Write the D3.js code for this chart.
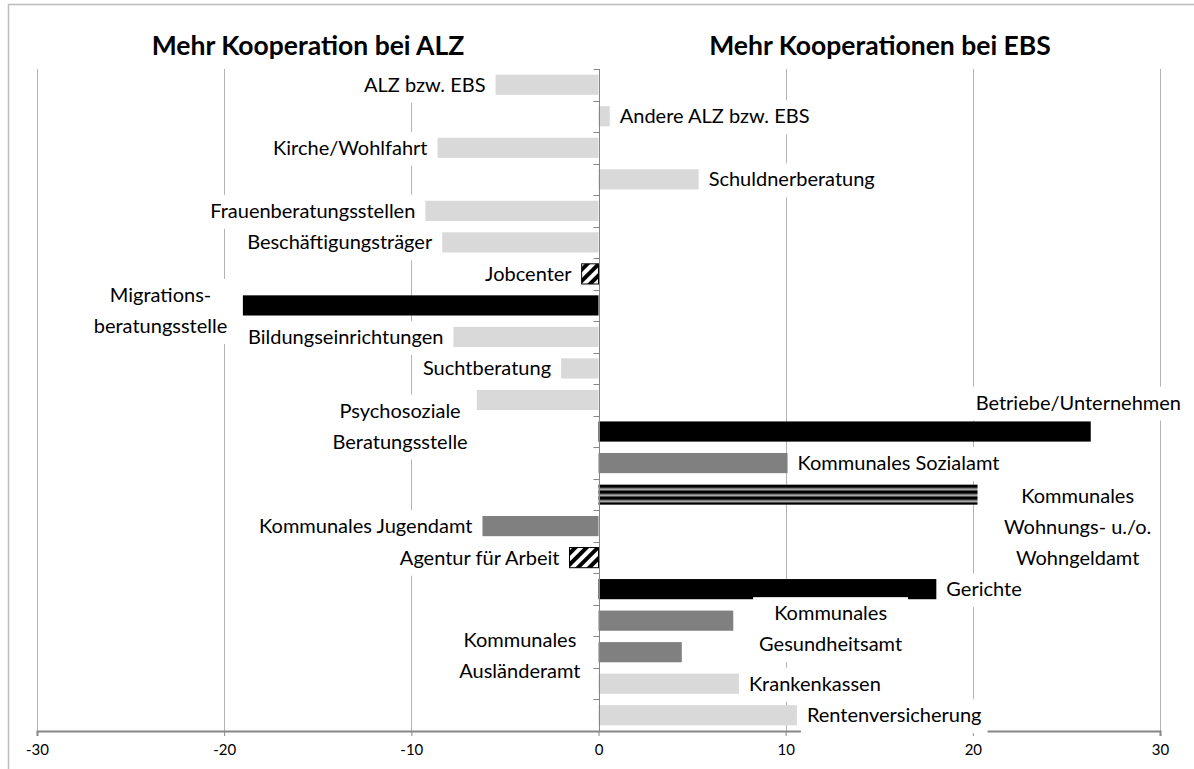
<!DOCTYPE html>
<html>
<head>
    <meta charset="utf-8">
    <script src="https://d3js.org/d3.v7.min.js"></script>
    <style>
        body { margin: 0; background: #fff; }
        text { font-family: Lato, "Noto Sans", sans-serif; fill: #000; }
    </style>
</head>
<body>
    <div id="chart"></div>
    <script>
        // categories top to bottom ("\n" = line break in the label)
        const categories = [
            "ALZ bzw. EBS", "Andere ALZ bzw. EBS", "Kirche/Wohlfahrt", "Schuldnerberatung",
            "Frauenberatungsstellen", "Beschäftigungsträger", "Jobcenter",
            "Migrations-\nberatungsstelle", "Bildungseinrichtungen", "Suchtberatung",
            "Psychosoziale\nBeratungsstelle", "Betriebe/Unternehmen", "Kommunales Sozialamt",
            "Kommunales\nWohnungs- u./o.\nWohngeldamt", "Kommunales Jugendamt", "Agentur für Arbeit",
            "Gerichte", "Kommunales\nGesundheitsamt", "Kommunales\nAusländeramt",
            "Krankenkassen", "Rentenversicherung"
        ];
        const values = [-5.5, 0.6, -8.6, 5.35, -9.25, -8.35, -0.9, -19.0, -7.75, -2.0, -6.5,
            26.3, 10.1, 20.25, -6.2, -1.55, 18.05, 7.2, 4.45, 7.5, 10.6];
        const groups = ["light", "light", "light", "light", "light", "light", "hatch", "black",
            "light", "light", "light", "black", "mid", "stripe", "mid", "hatch", "black",
            "mid", "mid", "light", "light"];
        const xTicks = [-30, -20, -10, 0, 10, 20, 30];
        const titles = ["Mehr Kooperation bei ALZ", "Mehr Kooperationen bei EBS"];

        const width = 1194, height = 769;
        const margin = { top: 69, right: 34, bottom: 38, left: 37 };

        // labels that do not sit next to the end of their bar: [x value, anchor, y shift px]
        const labelPlace = {
            7: [-23.4, "middle", 5],
            10: [-10.6, "middle", 26],
            11: [20.15, "start", -29],
            13: [25.6, "middle", 32],
            17: [12.4, "middle", 8],
            18: [-4.2, "middle", 3]
        };

        const fills = { light: "#d9d9d9", mid: "#808080", black: "#000", hatch: "url(#hatch)", stripe: "url(#stripe)" };

        const svg = d3.select("#chart").append("svg")
            .attr("width", width)
            .attr("height", height);

        const x = d3.scaleLinear().domain([-30, 30]).range([margin.left, width - margin.right]);
        const y = d3.scaleBand().domain(categories)
            .range([margin.top, height - margin.bottom])
            .paddingInner(0.36).paddingOuter(0.18);
        const step = y.step();

        // patterns
        const defs = svg.append("defs");
        const hatch = defs.append("pattern").attr("id", "hatch")
            .attr("patternUnits", "userSpaceOnUse")
            .attr("width", 8).attr("height", 8)
            .attr("patternTransform", "rotate(45)");
        hatch.append("rect").attr("width", 8).attr("height", 8).attr("fill", "#fff");
        hatch.append("rect").attr("width", 4).attr("height", 8).attr("fill", "#000");

        const stripeY = y(categories[13]);
        const stripe = defs.append("pattern").attr("id", "stripe")
            .attr("patternUnits", "userSpaceOnUse")
            .attr("y", stripeY)
            .attr("width", 10).attr("height", 6);
        stripe.append("rect").attr("width", 10).attr("height", 6).attr("fill", "#a6a6a6");
        stripe.append("rect").attr("width", 10).attr("height", 3.5).attr("fill", "#000");

        // outer frame
        svg.append("rect")
            .attr("x", 8.5).attr("y", 4.5)
            .attr("width", 1300).attr("height", 900)
            .attr("fill", "none").attr("stroke", "#bcbcbc").attr("stroke-width", 1.5);

        // titles
        svg.append("text").attr("x", 308).attr("y", 55)
            .attr("text-anchor", "middle").style("font-size", "26.5px").style("font-weight", "bold")
            .text(titles[0]);
        svg.append("text").attr("x", 880).attr("y", 55)
            .attr("text-anchor", "middle").style("font-size", "26.5px").style("font-weight", "bold")
            .text(titles[1]);

        // vertical gridlines
        svg.append("g").selectAll("line")
            .data(xTicks.filter(d => d !== 0))
            .join("line")
            .attr("x1", d => Math.round(x(d)) + 0.5).attr("x2", d => Math.round(x(d)) + 0.5)
            .attr("y1", margin.top).attr("y2", height - margin.bottom)
            .attr("stroke", "#b3b3b3");

        // bars
        const data = categories.map((c, i) => ({ cat: c, value: values[i], group: groups[i], i: i }));
        svg.append("g").selectAll("rect")
            .data(data)
            .join("rect")
            .attr("x", d => x(Math.min(0, d.value)))
            .attr("y", d => y(d.cat))
            .attr("width", d => Math.abs(x(d.value) - x(0)))
            .attr("height", y.bandwidth())
            .attr("fill", d => fills[d.group])
            .attr("stroke", d => d.group === "hatch" ? "#000" : "none");

        // category axis at zero
        const x0 = Math.round(x(0)) + 0.5;
        const yAxis = svg.append("g");
        yAxis.append("line")
            .attr("x1", x0).attr("x2", x0)
            .attr("y1", margin.top).attr("y2", height - margin.bottom)
            .attr("stroke", "#868686");
        yAxis.selectAll(".tk")
            .data(d3.range(categories.length + 1))
            .join("line")
            .attr("x1", x0 - 6).attr("x2", x0)
            .attr("y1", i => Math.round(margin.top + i * step) + 0.5)
            .attr("y2", i => Math.round(margin.top + i * step) + 0.5)
            .attr("stroke", "#868686");

        // value axis at the bottom
        const xAxis = svg.append("g")
            .attr("transform", `translate(0, ${height - margin.bottom})`)
            .call(d3.axisBottom(x).tickValues(xTicks).tickFormat(d => String(d)).tickSize(5).tickPadding(8));
        xAxis.select(".domain").attr("stroke", "#868686").attr("stroke-width", 2);
        xAxis.selectAll(".tick line").attr("stroke", "#868686");
        xAxis.selectAll(".tick text").style("font-size", "15px").attr("fill", "#000")
            .style("font-family", "Lato, sans-serif");

        // labels with white boxes
        const lineH = 31;
        const labelG = svg.append("g");
        data.forEach(d => {
            const lines = d.cat.split("\n");
            let tx, anchor, shift = 0;
            if (labelPlace[d.i]) {
                tx = x(labelPlace[d.i][0]);
                anchor = labelPlace[d.i][1];
                shift = labelPlace[d.i][2];
            } else if (d.value < 0) {
                tx = x(d.value) - 10;
                anchor = "end";
            } else {
                tx = x(d.value) + 10;
                anchor = "start";
            }
            const cy = y(d.cat) + y.bandwidth() / 2 + shift;
            const g = labelG.append("g");
            const box = g.append("rect").attr("fill", "#fff");
            const t = g.append("text")
                .attr("text-anchor", anchor)
                .style("font-size", "20px");
            lines.forEach((l, k) => {
                t.append("tspan")
                    .attr("x", tx)
                    .attr("y", cy + (k - (lines.length - 1) / 2) * lineH)
                    .attr("dy", "0.35em")
                    .text(l);
            });
            const bb = t.node().getBBox();
            box.attr("x", bb.x - 6).attr("y", bb.y - 3)
                .attr("width", bb.width + 12).attr("height", bb.height + 10);
        });
    </script>
</body>
</html>
